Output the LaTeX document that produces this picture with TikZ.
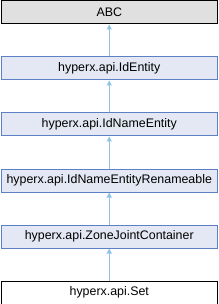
\documentclass[tikz,border=0pt]{standalone}
\usepackage{fontspec}
\setmainfont{Liberation Sans}
\usetikzlibrary{arrows.meta}
\definecolor{boxfill}{HTML}{E3E8F4}
\definecolor{boxline}{HTML}{5B80C4}
\definecolor{edgecol}{HTML}{90C2E4}
\definecolor{abcfill}{HTML}{E0E0E0}
\begin{document}
\begin{tikzpicture}[x=1pt,y=-1pt,
  cls/.style={draw=boxline,fill=boxfill,line width=1pt,minimum width=216.5pt,minimum height=23pt,inner sep=0pt,font=\fontsize{12.4}{14}\selectfont,anchor=north west},
  abcbox/.style={cls,draw=black,fill=abcfill},
  setbox/.style={cls,draw=black,fill=white},
  inh/.style={draw=edgecol,line width=1pt,-{Triangle[length=5pt,width=5pt]}}]
\useasboundingbox (0,0) rectangle (218,304);
\node[abcbox] (abc) at (0.5,0.5) {ABC};
\node[cls] (ide) at (0.5,56.5) {hyperx.api.IdEntity};
\node[cls] (idn) at (0.5,112.5) {hyperx.api.IdNameEntity};
\node[cls] (idr) at (0.5,168.5) {hyperx.api.IdNameEntityRenameable};
\node[cls] (zjc) at (0.5,224.5) {hyperx.api.ZoneJointContainer};
\node[setbox] (set) at (0.5,280.5) {hyperx.api.Set};
\draw[inh] (ide.north) -- (abc.south);
\draw[inh] (idn.north) -- (ide.south);
\draw[inh] (idr.north) -- (idn.south);
\draw[inh] (zjc.north) -- (idr.south);
\draw[inh] (set.north) -- (zjc.south);
\end{tikzpicture}
\end{document}
